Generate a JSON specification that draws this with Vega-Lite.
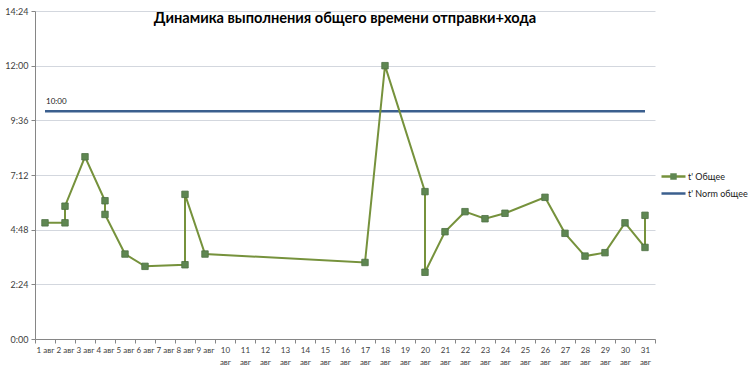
{
  "$schema": "https://vega.github.io/schema/vega-lite/v6.json",
  "width": 620,
  "height": 328,
  "autosize": {"type": "none"},
  "padding": {"left": 35, "top": 11, "right": 95, "bottom": 35},
  "background": "white",
  "config": {"view": {"stroke": null}, "font": "Lato"},
  "title": {"text": "Динамика выполнения общего времени отправки+хода", "fontSize": 14.6, "fontWeight": "bold", "font": "Lato", "color": "#000000", "anchor": "middle", "frame": "group", "offset": -19},
  "datasets": {
    "fact": [
      {"seq": 1, "day": "1 авг", "t": 5.10, "series": "t' Общее"},
      {"seq": 2, "day": "2 авг", "t": 5.10, "series": "t' Общее"},
      {"seq": 3, "day": "2 авг", "t": 5.83, "series": "t' Общее"},
      {"seq": 4, "day": "3 авг", "t": 8.00, "series": "t' Общее"},
      {"seq": 5, "day": "4 авг", "t": 6.07, "series": "t' Общее"},
      {"seq": 6, "day": "4 авг", "t": 5.47, "series": "t' Общее"},
      {"seq": 7, "day": "5 авг", "t": 3.73, "series": "t' Общее"},
      {"seq": 8, "day": "6 авг", "t": 3.19, "series": "t' Общее"},
      {"seq": 9, "day": "8 авг", "t": 3.26, "series": "t' Общее"},
      {"seq": 10, "day": "8 авг", "t": 6.35, "series": "t' Общее"},
      {"seq": 11, "day": "9 авг", "t": 3.73, "series": "t' Общее"},
      {"seq": 12, "day": "17 авг", "t": 3.36, "series": "t' Общее"},
      {"seq": 13, "day": "18 авг", "t": 12.0, "series": "t' Общее"},
      {"seq": 14, "day": "20 авг", "t": 6.47, "series": "t' Общее"},
      {"seq": 15, "day": "20 авг", "t": 2.93, "series": "t' Общее"},
      {"seq": 16, "day": "21 авг", "t": 4.71, "series": "t' Общее"},
      {"seq": 17, "day": "22 авг", "t": 5.59, "series": "t' Общее"},
      {"seq": 18, "day": "23 авг", "t": 5.28, "series": "t' Общее"},
      {"seq": 19, "day": "24 авг", "t": 5.52, "series": "t' Общее"},
      {"seq": 20, "day": "26 авг", "t": 6.22, "series": "t' Общее"},
      {"seq": 21, "day": "27 авг", "t": 4.64, "series": "t' Общее"},
      {"seq": 22, "day": "28 авг", "t": 3.64, "series": "t' Общее"},
      {"seq": 23, "day": "29 авг", "t": 3.79, "series": "t' Общее"},
      {"seq": 24, "day": "30 авг", "t": 5.10, "series": "t' Общее"},
      {"seq": 25, "day": "31 авг", "t": 4.02, "series": "t' Общее"},
      {"seq": 26, "day": "31 авг", "t": 5.43, "series": "t' Общее"}
    ],
    "norm": [
      {"seq": 1, "day": "1 авг", "t": 10, "series": "t' Norm общее", "label": "10:00"},
      {"seq": 2, "day": "31 авг", "t": 10, "series": "t' Norm общее", "label": ""}
    ]
  },
  "layer": [
    {
      "data": {"name": "norm"},
      "mark": {"type": "line", "strokeWidth": 2.5},
      "encoding": {
        "x": {"field": "day", "type": "ordinal", "bandPosition": 0.5,
          "scale": {"type": "band", "paddingInner": 0, "paddingOuter": 0, "domain": ["1 авг","2 авг","3 авг","4 авг","5 авг","6 авг","7 авг","8 авг","9 авг","10 авг","11 авг","12 авг","13 авг","14 авг","15 авг","16 авг","17 авг","18 авг","19 авг","20 авг","21 авг","22 авг","23 авг","24 авг","25 авг","26 авг","27 авг","28 авг","29 авг","30 авг","31 авг"]},
          "axis": {"title": null, "tickBand": "extent", "labelAngle": 0, "labelOverlap": false, "labelBound": false, "labelFlush": false, "labelFontSize": 8, "labelColor": "#404040", "labelPadding": 3, "labelLineHeight": 12, "tickSize": 4, "tickColor": "#868686", "domainColor": "#868686", "grid": false,
            "labelExpr": "length(datum.label) > 5 ? split(datum.label, ' ') : datum.label"}},
        "y": {"field": "t", "type": "quantitative",
          "scale": {"domain": [0, 14.4], "nice": false, "zero": true},
          "axis": {"title": null, "values": [0, 2.4, 4.8, 7.2, 9.6, 12, 14.4], "grid": true, "gridColor": "#d3d7de", "tickSize": 4, "tickColor": "#868686", "domainColor": "#868686", "labelFontSize": 9, "labelColor": "#404040", "labelPadding": 3,
            "labelExpr": "floor(datum.value) + ':' + (round((datum.value % 1) * 60) < 10 ? '0' : '') + round((datum.value % 1) * 60)"}},
        "color": {"field": "series", "type": "nominal",
          "scale": {"domain": ["t' Общее", "t' Norm общее"], "range": ["#76923c", "#3b5f8e"]},
          "legend": {"title": null, "orient": "none", "legendX": 625, "legendY": 160, "symbolType": "stroke", "symbolSize": 576, "symbolStrokeWidth": 2.5, "clipHeight": 11, "labelFontSize": 9, "labelColor": "#202020", "rowPadding": 6, "labelOffset": 1}},
        "order": {"field": "seq", "type": "quantitative"}
      }
    },
    {
      "data": {"name": "norm"},
      "transform": [{"filter": "datum.label != ''"}],
      "mark": {"type": "text", "align": "left", "baseline": "middle", "dx": 1, "dy": -9, "fontSize": 8, "color": "#202020"},
      "encoding": {
        "x": {"field": "day", "type": "ordinal", "bandPosition": 0.5},
        "y": {"field": "t", "type": "quantitative"},
        "text": {"field": "label"}
      }
    },
    {
      "data": {"name": "fact"},
      "mark": {"type": "line", "strokeWidth": 2},
      "encoding": {
        "x": {"field": "day", "type": "ordinal", "bandPosition": 0.5},
        "y": {"field": "t", "type": "quantitative"},
        "color": {"field": "series", "type": "nominal"},
        "order": {"field": "seq", "type": "quantitative"}
      }
    },
    {
      "data": {"name": "fact"},
      "mark": {"type": "point", "filled": true, "size": 42, "fill": "#5f8752", "stroke": "#4c7042", "strokeWidth": 0.8, "opacity": 1},
      "encoding": {
        "x": {"field": "day", "type": "ordinal", "bandPosition": 0.5},
        "y": {"field": "t", "type": "quantitative"},
        "shape": {"field": "series", "type": "nominal",
          "scale": {"domain": ["t' Общее"], "range": ["square"]},
          "legend": {"title": null, "orient": "none", "legendX": 634, "legendY": 160, "clipHeight": 11, "symbolSize": 42, "symbolFillColor": "#5f8752", "symbolStrokeColor": "#4c7042", "symbolStrokeWidth": 0.8, "symbolOpacity": 1, "labelExpr": "''", "labelFontSize": 9}}
      }
    }
  ]
}
